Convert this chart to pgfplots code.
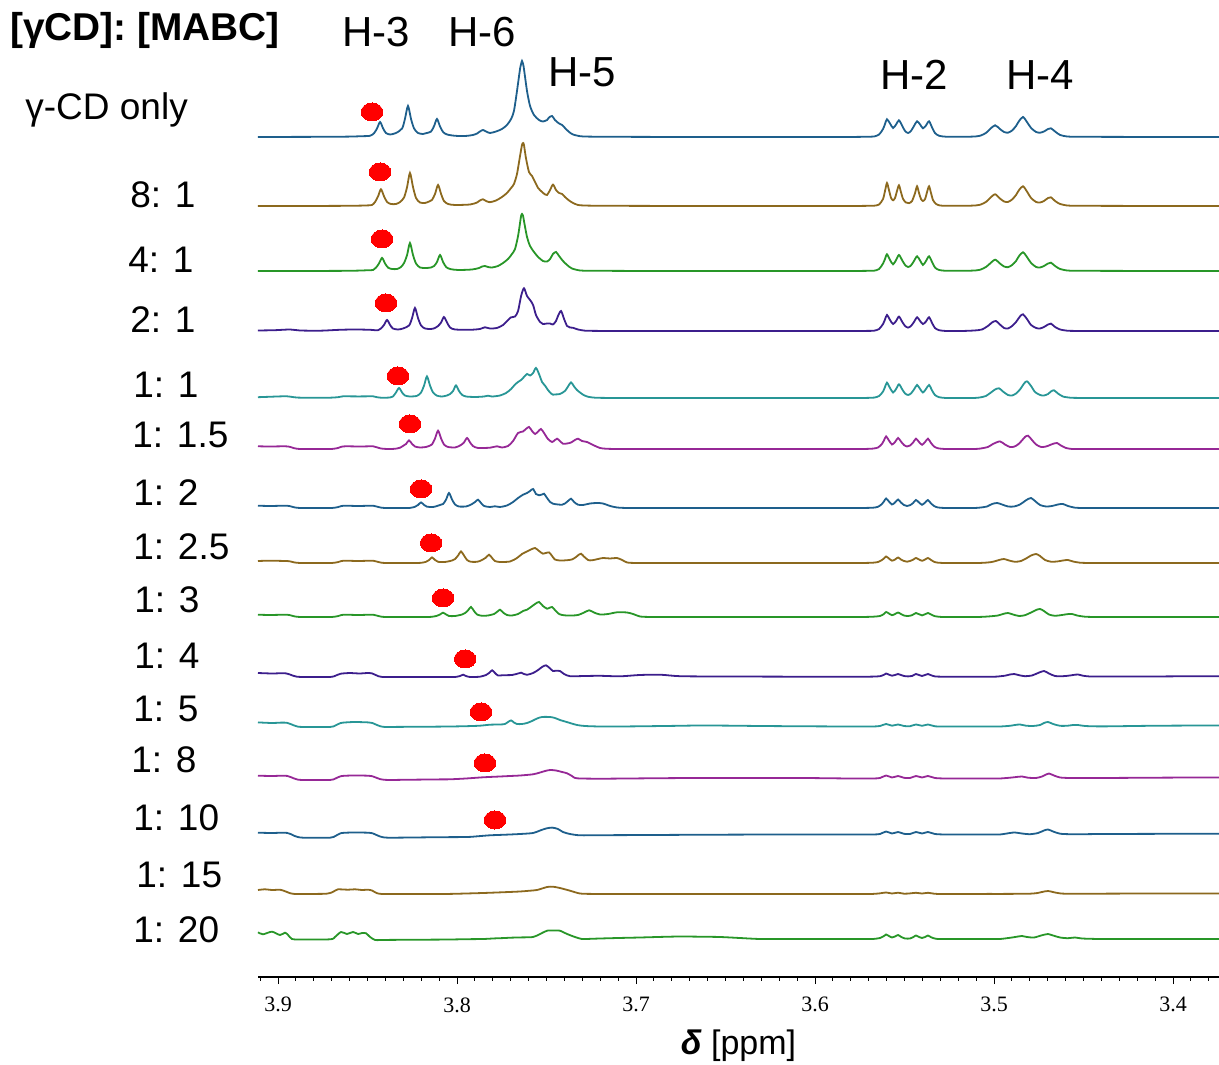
\documentclass[border=0pt]{standalone}
\usepackage{fontspec}
\setmainfont{Liberation Sans}
\newfontfamily\serif{Liberation Serif}
\usepackage{pgfplots}
\usepackage{pgfplotstable}
\pgfplotsset{compat=1.18}

\definecolor{cblue}{RGB}{30,95,140}
\definecolor{cbrown}{RGB}{140,105,30}
\definecolor{cgreen}{RGB}{40,150,40}
\definecolor{cindigo}{RGB}{60,30,140}
\definecolor{cteal}{RGB}{40,150,150}
\definecolor{cmag}{RGB}{150,40,150}

% spectra: x = chemical shift (ppm), i = intensity above own baseline
\pgfplotstableread{
x i
3.9112 0
3.8900 0.1
3.8709 0.2
3.8600 0.4
3.8530 0.8
3.8486 1.2
3.8464 3.7
3.8447 8.5
3.8430 15
3.8413 8.5
3.8397 4
3.8374 2.5
3.8341 4
3.8307 8.5
3.8291 18
3.8274 31
3.8257 18
3.8240 8.5
3.8218 4
3.8190 3
3.8168 4
3.8145 5.5
3.8128 11
3.8112 18
3.8095 10.5
3.8078 5
3.8056 2.5
3.8011 1.2
3.7955 1
3.7911 2
3.7888 3.5
3.7872 5.5
3.7855 7
3.7838 5.5
3.7816 4
3.7782 5.5
3.7749 8
3.7721 12
3.7698 18
3.7682 26
3.7665 46
3.7648 68
3.7642 73
3.7637 76
3.7631 73
3.7626 68
3.7609 46
3.7592 31
3.7570 22
3.7542 17
3.7520 15.5
3.7497 17
3.7486 19.5
3.7469 21
3.7453 17
3.7430 13.5
3.7413 12
3.7397 9
3.7374 5
3.7352 2.5
3.7313 0.8
3.7280 0.45
3.7230 0.3
3.7130 0.2
3.6950 0.1
3.6643 0
3.6300 0
3.6000 0
3.5850 0
3.5760 0.1
3.5710 0.25
3.5670 0.5
3.5642 2.5
3.5620 8
3.5609 13
3.5598 17.7
3.5581 13.5
3.5564 9
3.5547 12.5
3.5531 16.7
3.5514 11.5
3.5497 6
3.5480 4
3.5464 6
3.5447 11
3.5430 15.7
3.5413 12.5
3.5397 8.7
3.5380 11.5
3.5363 15.7
3.5346 9.5
3.5330 4
3.5307 1.2
3.5269 0.3
3.5220 0.2
3.5170 0.25
3.5134 0.3
3.5100 0.6
3.5078 1.2
3.5045 4
3.5022 8
3.4994 11.7
3.4967 8
3.4944 5
3.4922 4.3
3.4899 6.5
3.4877 11
3.4860 16
3.4838 20
3.4816 15
3.4793 9
3.4765 5
3.4743 4.3
3.4721 5.5
3.4698 8
3.4682 8.7
3.4659 5.5
3.4631 2
3.4592 0.5
3.4560 0.3
3.4510 0.2
3.4430 0.15
3.4300 0.1
3.4100 0
3.3900 0
3.3743 0
}\tA

\pgfplotstableread{
x i
3.9112 0
3.8900 0
3.8700 0.1
3.8600 0.2
3.8530 0.4
3.8500 0.6
3.8475 1
3.8458 4
3.8441 9.7
3.8425 16.7
3.8408 9.7
3.8391 4
3.8369 2
3.8341 2
3.8318 4
3.8296 8.5
3.8279 19
3.8263 33
3.8246 19
3.8229 8
3.8207 3.5
3.8179 3
3.8156 4.5
3.8140 6
3.8123 12
3.8106 21
3.8089 12
3.8073 5
3.8050 2
3.8011 1
3.7927 1.5
3.7888 3.5
3.7872 5.5
3.7855 6.7
3.7838 5
3.7816 3.8
3.7782 5.5
3.7749 9
3.7721 13
3.7698 18
3.7682 22
3.7665 32
3.7648 50
3.7637 61
3.7631 63
3.7626 61
3.7615 48
3.7598 34
3.7581 30
3.7564 24
3.7547 18
3.7525 14
3.7508 11.5
3.7497 11
3.7480 16
3.7464 21.4
3.7447 16
3.7430 13
3.7413 12
3.7397 9
3.7374 5.5
3.7352 3
3.7324 1
3.7290 0.5
3.7240 0.3
3.7150 0.2
3.6950 0.1
3.6643 0
3.6300 0
3.6000 0
3.5850 0
3.5760 0.05
3.5710 0.15
3.5670 0.3
3.5642 1.5
3.5620 7
3.5609 15
3.5598 23
3.5587 16
3.5575 8
3.5564 5.7
3.5553 8
3.5542 15
3.5531 20.7
3.5520 14
3.5508 7
3.5492 3.5
3.5475 2.8
3.5458 5
3.5441 13
3.5430 19.7
3.5419 13
3.5408 7
3.5397 5
3.5385 7
3.5374 14
3.5363 19.7
3.5352 13
3.5341 6
3.5324 2
3.5302 0.5
3.5269 0.2
3.5220 0.2
3.5170 0.25
3.5134 0.3
3.5100 0.6
3.5078 1.2
3.5045 4
3.5022 8
3.4994 11.7
3.4967 7.5
3.4944 4.5
3.4922 4
3.4899 6.5
3.4877 11
3.4860 16
3.4838 19.7
3.4816 14.5
3.4793 8
3.4765 4
3.4743 3.5
3.4721 5
3.4698 8
3.4682 8.7
3.4659 5
3.4631 2
3.4592 0.5
3.4560 0.3
3.4510 0.2
3.4430 0.15
3.4300 0.1
3.4100 0
3.3900 0
3.3743 0
}\tB

\pgfplotstableread{
x i
3.9112 0
3.8900 0
3.8700 0.1
3.8600 0.2
3.8530 0.5
3.8495 0.8
3.8469 1
3.8453 3.3
3.8436 7.5
3.8419 13
3.8402 7.5
3.8385 3.3
3.8363 2
3.8335 2
3.8313 4
3.8296 8
3.8279 16
3.8263 28
3.8246 16
3.8229 7.5
3.8207 3.5
3.8173 3
3.8145 3.5
3.8128 5
3.8112 9
3.8095 16
3.8078 9
3.8061 4
3.8039 2
3.7994 1
3.7916 1.5
3.7877 3
3.7860 4.5
3.7844 5
3.7827 4
3.7804 3.5
3.7771 5
3.7743 8
3.7715 12
3.7693 17
3.7676 22
3.7659 35
3.7648 48
3.7642 55
3.7637 57
3.7631 55
3.7626 50
3.7609 34
3.7592 25
3.7570 19
3.7547 14
3.7520 10
3.7497 9.5
3.7480 12
3.7464 17
3.7447 19
3.7430 15
3.7408 10
3.7385 6
3.7358 2.5
3.7313 0.5
3.7270 0.3
3.7200 0.2
3.7080 0.1
3.6900 0
3.6600 0
3.6300 0
3.6000 0
3.5850 0
3.5760 0.05
3.5710 0.15
3.5670 0.3
3.5642 2
3.5620 7.5
3.5609 12
3.5598 16.7
3.5581 11
3.5564 6.7
3.5547 11
3.5531 16
3.5514 11
3.5497 6
3.5480 4
3.5464 5.5
3.5447 10
3.5430 14.7
3.5413 10.5
3.5397 6
3.5380 10
3.5363 14.7
3.5346 9
3.5330 3.5
3.5307 1
3.5269 0.2
3.5220 0.2
3.5170 0.25
3.5134 0.3
3.5100 0.6
3.5078 1.2
3.5045 4
3.5022 7.5
3.4994 11.3
3.4967 7.5
3.4944 4.5
3.4922 3.8
3.4899 6
3.4877 10
3.4860 15
3.4838 18.7
3.4816 14
3.4793 8
3.4765 4
3.4743 3.5
3.4721 5
3.4698 7.5
3.4682 8.3
3.4659 5
3.4631 2
3.4592 0.5
3.4560 0.3
3.4510 0.2
3.4430 0.15
3.4300 0.1
3.4100 0
3.3900 0
3.3743 0
}\tC

\pgfplotstableread{
x i
3.9112 0.5
3.9017 0.8
3.8933 1.5
3.8877 0.5
3.8765 0.3
3.8654 1.2
3.8570 1.5
3.8486 1.2
3.8460 0.8
3.8441 0.8
3.8425 2.5
3.8408 6
3.8391 11
3.8374 6
3.8358 2.5
3.8330 1.5
3.8302 2.5
3.8268 5.5
3.8251 13
3.8235 23
3.8218 13
3.8201 5.5
3.8179 2.5
3.8145 2
3.8123 3
3.8106 5
3.8089 8.5
3.8073 14
3.8056 8.5
3.8039 3.5
3.8011 1.5
3.7927 1.2
3.7872 2
3.7844 3.7
3.7816 2.5
3.7777 3
3.7743 6
3.7715 11
3.7698 13.7
3.7676 14.5
3.7659 20
3.7642 35
3.7626 42.7
3.7609 35
3.7592 31
3.7575 26
3.7559 16
3.7536 9
3.7520 7
3.7497 7.5
3.7480 7.5
3.7464 6.5
3.7447 10
3.7436 15
3.7419 20
3.7402 12
3.7385 5
3.7369 3.5
3.7352 3.2
3.7324 1.5
3.7285 0.3
3.7250 0.15
3.7180 0.05
3.7089 0
3.6900 0
3.6600 0
3.6300 0
3.6000 0
3.5850 0
3.5760 0
3.5710 0.1
3.5670 0.3
3.5642 2
3.5620 7
3.5609 11.5
3.5598 16
3.5581 11
3.5564 7
3.5547 10
3.5531 14.4
3.5514 9.5
3.5497 5
3.5480 3.4
3.5464 5
3.5447 9
3.5430 13.7
3.5413 10
3.5397 7
3.5380 9.5
3.5363 13.7
3.5346 8
3.5330 3
3.5307 0.8
3.5269 0
3.5220 0
3.5160 0.1
3.5120 0.4
3.5090 0.8
3.5067 1.5
3.5034 5
3.5011 8.5
3.4989 10
3.4967 6.5
3.4944 3
3.4922 2.5
3.4899 5
3.4877 9
3.4855 14.5
3.4838 16.7
3.4816 12
3.4793 6
3.4765 3
3.4743 2.5
3.4721 4
3.4698 6.5
3.4682 7.4
3.4659 4
3.4631 1.5
3.4592 0.3
3.4560 0.1
3.4510 0
3.4430 0
3.4300 0
3.4100 0
3.3900 0
3.3743 0
}\tD

\pgfplotstableread{
x i
3.9112 0.8
3.9050 1.2
3.8990 1.6
3.8950 1.7
3.8920 1.0
3.8890 0.4
3.8850 0.3
3.8780 0.3
3.8709 0.3
3.8665 0.8
3.8637 1.7
3.8580 1.6
3.8520 1.6
3.8469 1.7
3.8448 0.8
3.8425 0.3
3.8400 0.3
3.8374 0.5
3.8358 1.5
3.8341 5.5
3.8324 10
3.8307 5.5
3.8291 2.5
3.8263 1.5
3.8223 2.2
3.8201 5.5
3.8184 12.5
3.8168 21.6
3.8151 12.5
3.8134 5.5
3.8112 2.3
3.8084 1.5
3.8056 2.5
3.8039 4
3.8022 7
3.8006 12.6
3.7989 7
3.7972 3.2
3.7950 1.5
3.7899 1
3.7849 1.5
3.7827 2.3
3.7804 1.5
3.7760 2.5
3.7726 5
3.7698 9
3.7676 13.5
3.7659 16
3.7642 18
3.7626 21
3.7609 24
3.7592 22.5
3.7575 25
3.7559 30
3.7542 24
3.7525 16
3.7508 12.3
3.7492 8
3.7475 4.5
3.7464 3.3
3.7447 3.6
3.7425 4
3.7397 7
3.7380 11.5
3.7363 15.6
3.7346 11.5
3.7330 8
3.7313 5.5
3.7296 3.3
3.7268 1.2
3.7229 0.3
3.7180 0.1
3.7089 0
3.6900 0
3.6600 0
3.6300 0
3.6000 0
3.5850 0
3.5760 0
3.5710 0.1
3.5670 0.4
3.5642 2
3.5620 6.5
3.5609 11
3.5598 15.3
3.5581 10
3.5564 5.5
3.5547 9
3.5531 13.7
3.5514 9
3.5497 4.5
3.5480 3
3.5464 4.5
3.5447 8.5
3.5430 13
3.5413 9
3.5397 5.5
3.5380 9
3.5363 13
3.5346 7.5
3.5330 3
3.5307 0.8
3.5269 0
3.5210 0
3.5140 0
3.5110 0
3.5089 0.3
3.5065 1
3.5045 2
3.5017 5.5
3.4994 8.5
3.4972 9.7
3.4950 6.5
3.4922 3
3.4899 2.5
3.4877 4.5
3.4855 8.5
3.4832 14.5
3.4816 16.7
3.4793 12
3.4771 6
3.4743 3
3.4721 2.5
3.4698 4
3.4682 6.5
3.4665 7.7
3.4643 4.5
3.4615 1.5
3.4575 0.3
3.4540 0.1
3.4490 0
3.4400 0
3.4250 0
3.4000 0
3.3743 0
}\tE

\pgfplotstableread{
x i
3.9112 2.7
3.9045 2.5
3.8961 2.7
3.8935 2.2
3.8910 0.8
3.8885 0.1
3.8850 0
3.8770 0
3.8700 0
3.8665 1.0
3.8645 2.3
3.8620 2.7
3.8542 2.5
3.8469 2.7
3.8450 1.8
3.8425 0.5
3.8400 0.1
3.8370 0
3.8346 0.2
3.8318 1.3
3.8302 3
3.8285 5
3.8268 8.6
3.8251 5
3.8235 2.5
3.8207 1.5
3.8173 2
3.8156 3
3.8140 4.5
3.8123 10.5
3.8106 18.3
3.8089 10.5
3.8073 4.5
3.8050 2
3.8011 1.5
3.7994 2.5
3.7978 4
3.7961 6.5
3.7944 11
3.7927 6.5
3.7911 3
3.7883 1
3.7816 1.3
3.7777 2.7
3.7749 1.5
3.7715 3
3.7687 8
3.7659 16
3.7631 17.5
3.7615 20
3.7598 22
3.7581 18
3.7564 15
3.7547 17.5
3.7531 20
3.7514 16
3.7492 10
3.7469 7
3.7453 9
3.7441 10.3
3.7425 8
3.7408 5.3
3.7385 5.5
3.7363 6.5
3.7341 9
3.7324 10.3
3.7302 8
3.7274 7
3.7240 4
3.7201 1
3.7170 0.3
3.7130 0.05
3.7060 0
3.6900 0
3.6600 0
3.6300 0
3.6000 0
3.5850 0
3.5760 0
3.5710 0.1
3.5676 0.4
3.5648 1.5
3.5626 5
3.5615 8.5
3.5603 12.6
3.5587 8.5
3.5570 4.5
3.5553 7
3.5536 11
3.5520 7.5
3.5503 4
3.5486 2.5
3.5469 3.5
3.5452 6.5
3.5436 10.3
3.5419 7
3.5402 4.2
3.5385 7
3.5369 10.3
3.5352 6
3.5335 2.5
3.5313 0.7
3.5274 0
3.5220 0
3.5150 0
3.5110 0
3.5078 0.4
3.5034 2
3.5006 5
3.4967 7.6
3.4939 4.5
3.4911 2
3.4888 2.3
3.4866 4.5
3.4844 8.5
3.4827 12
3.4810 13.3
3.4788 9
3.4765 4.5
3.4737 2
3.4709 2.5
3.4687 4
3.4665 5.5
3.4648 6
3.4626 3.5
3.4598 1
3.4564 0
3.4530 0
3.4470 0
3.4370 0
3.4200 0
3.4000 0
3.3743 0
}\tF

\pgfplotstableread{
x i
3.9112 2.3
3.9045 2
3.8961 2.3
3.8935 1.9
3.8910 0.7
3.8885 0.1
3.8850 0
3.8770 0
3.8700 0
3.8665 0.9
3.8645 2
3.8620 2.3
3.8553 2
3.8469 2.3
3.8450 1.5
3.8425 0.4
3.8400 0
3.8350 0
3.8300 0
3.8263 0.1
3.8235 1.2
3.8218 3
3.8201 5.6
3.8184 3
3.8168 1.3
3.8134 1
3.8112 2
3.8095 3
3.8078 4
3.8061 8.5
3.8045 15
3.8028 8.5
3.8011 3.5
3.7989 1.5
3.7950 1.5
3.7933 2.5
3.7916 4
3.7899 6
3.7883 8.3
3.7866 5
3.7849 2
3.7816 1
3.7788 1.7
3.7760 1
3.7721 2.5
3.7687 6
3.7659 10
3.7631 13.3
3.7609 15
3.7592 17
3.7575 19
3.7559 14
3.7542 12.7
3.7525 13.5
3.7514 14.3
3.7497 10
3.7480 6
3.7464 4.3
3.7436 3.5
3.7413 3.3
3.7397 4.5
3.7380 7
3.7363 9.3
3.7346 6
3.7324 3.3
3.7296 3
3.7257 4.5
3.7218 5
3.7184 4.5
3.7145 2
3.7106 0.5
3.7070 0.1
3.7020 0
3.6900 0
3.6600 0
3.6300 0
3.6000 0
3.5850 0
3.5760 0
3.5710 0.1
3.5676 0.3
3.5648 1.2
3.5626 4
3.5615 6.5
3.5603 9.5
3.5587 6.5
3.5570 3.5
3.5553 5.5
3.5536 8.5
3.5520 5.5
3.5503 3
3.5486 2
3.5469 2.8
3.5452 5
3.5436 8
3.5419 5.5
3.5402 3.2
3.5385 5.5
3.5369 8
3.5352 4.5
3.5335 2
3.5313 0.5
3.5274 0
3.5220 0
3.5150 0
3.5110 0
3.5089 0.2
3.5060 0.8
3.5039 1.5
3.5011 4
3.4983 5
3.4955 3.5
3.4922 1.5
3.4888 1.5
3.4855 3.5
3.4827 7
3.4810 9
3.4793 10
3.4771 7
3.4743 3
3.4709 1.5
3.4676 2
3.4643 3.5
3.4615 4
3.4587 2
3.4547 0.3
3.4510 0.05
3.4460 0
3.4370 0
3.4200 0
3.4000 0
3.3743 0
}\tG

\pgfplotstableread{
x i
3.9112 2
3.9045 2.3
3.8961 2
3.8935 1.7
3.8910 0.6
3.8885 0.1
3.8850 0
3.8770 0
3.8700 0
3.8665 0.9
3.8645 2
3.8620 2.3
3.8553 2
3.8469 2.3
3.8450 1.5
3.8425 0.4
3.8400 0
3.8340 0
3.8280 0
3.8230 0
3.8200 0.2
3.8173 1.2
3.8156 3
3.8140 5.6
3.8123 3
3.8106 1.2
3.8067 1
3.8028 2.5
3.8011 4
3.7994 7.5
3.7978 11.6
3.7961 7.5
3.7944 3
3.7922 1.2
3.7888 1.2
3.7872 2
3.7855 3.5
3.7838 5.5
3.7821 8.3
3.7804 5
3.7788 2
3.7760 1
3.7704 1.5
3.7665 5
3.7637 9
3.7609 11.6
3.7587 13.5
3.7564 15
3.7542 12
3.7520 9.3
3.7503 10
3.7486 10.6
3.7469 7
3.7453 3.5
3.7425 2.5
3.7391 2.7
3.7358 3.5
3.7335 6
3.7318 8.5
3.7307 9.3
3.7291 6.5
3.7268 3
3.7246 2.7
3.7212 4
3.7184 5
3.7145 4.5
3.7106 5
3.7078 3
3.7050 0.5
3.7020 0.1
3.6978 0
3.6900 0
3.6600 0
3.6300 0
3.6000 0
3.5850 0
3.5760 0
3.5710 0.1
3.5676 0.3
3.5648 1
3.5626 3
3.5615 4.5
3.5603 6.5
3.5587 4.5
3.5570 2.3
3.5553 3.5
3.5536 5.5
3.5520 3.5
3.5503 2
3.5486 1.3
3.5469 2
3.5452 3.3
3.5436 5
3.5419 3.5
3.5402 2.2
3.5385 3.5
3.5369 5
3.5352 3
3.5335 1.2
3.5313 0.3
3.5274 0
3.5220 0
3.5150 0
3.5090 0
3.5050 0.3
3.5020 0.8
3.5000 1.5
3.4972 3
3.4944 4
3.4916 2.5
3.4883 1.2
3.4849 2
3.4816 5
3.4793 7.5
3.4765 9
3.4743 7
3.4715 3
3.4682 1.3
3.4648 1.5
3.4615 2.5
3.4587 3
3.4559 1.5
3.4520 0.3
3.4480 0.05
3.4420 0
3.4330 0
3.4200 0
3.4000 0
3.3743 0
}\tH

\pgfplotstableread{
x i
3.9112 2.3
3.9045 2
3.8961 2.3
3.8935 1.9
3.8910 0.7
3.8885 0.1
3.8850 0
3.8770 0
3.8700 0
3.8665 0.9
3.8645 2
3.8620 2.3
3.8553 2
3.8469 2.3
3.8450 1.5
3.8425 0.4
3.8400 0
3.8340 0
3.8280 0
3.8220 0
3.8170 0
3.8140 0.2
3.8112 1.2
3.8095 2.5
3.8078 4.3
3.8061 2.5
3.8045 1
3.8011 1
3.7972 2.5
3.7955 4
3.7939 6.5
3.7922 10
3.7905 6
3.7888 2.5
3.7860 1.2
3.7827 1.5
3.7793 3
3.7777 5
3.7760 7.3
3.7743 4.5
3.7721 2
3.7693 1.5
3.7659 3
3.7631 6
3.7609 7.3
3.7587 10
3.7564 13
3.7542 15
3.7520 11
3.7497 8.3
3.7480 9.5
3.7469 10
3.7453 7
3.7430 3
3.7402 1.7
3.7358 1.5
3.7324 2
3.7296 4
3.7262 6.7
3.7235 4.5
3.7201 2.5
3.7156 3
3.7106 4.7
3.7050 4.5
3.7017 3
3.6978 0.5
3.6940 0.1
3.6866 0
3.6700 0
3.6400 0
3.6100 0
3.5850 0
3.5760 0
3.5710 0.1
3.5676 0.3
3.5637 1
3.5615 3
3.5603 5
3.5587 3.5
3.5570 1.8
3.5553 3
3.5536 4.5
3.5520 3
3.5503 1.5
3.5480 1
3.5458 1.8
3.5436 4
3.5419 2.8
3.5402 1.6
3.5385 2.8
3.5369 4
3.5352 2.5
3.5330 0.8
3.5291 0
3.5240 0
3.5170 0
3.5100 0
3.5060 0.2
3.5020 0.7
3.4978 1.5
3.4950 3
3.4922 4
3.4894 2.5
3.4860 1
3.4827 1.8
3.4793 4.5
3.4765 7
3.4743 8
3.4721 6
3.4693 2.5
3.4659 1.2
3.4620 2
3.4592 2.8
3.4564 3
3.4536 1.5
3.4492 0.3
3.4450 0.05
3.4390 0
3.4300 0
3.4150 0
3.3950 0
3.3743 0
}\tI

\pgfplotstableread{
x i
3.9112 4
3.9034 3.5
3.8980 3.8
3.8955 3.6
3.8935 2.6
3.8915 1.2
3.8895 0.3
3.8860 0
3.8780 0
3.8710 0
3.8690 0.5
3.8670 2
3.8650 3.3
3.8620 3.8
3.8598 4
3.8542 3.5
3.8500 4
3.8475 3.6
3.8458 2.3
3.8440 0.8
3.8420 0.1
3.8390 0
3.8330 0
3.8250 0
3.8150 0
3.8050 0
3.8011 0
3.7983 1
3.7966 2.3
3.7950 1
3.7927 0
3.7872 0.3
3.7838 2
3.7821 4
3.7804 6.7
3.7788 4
3.7771 1.5
3.7743 1.8
3.7693 2
3.7659 3.5
3.7642 4.3
3.7626 3
3.7609 2.2
3.7575 4
3.7547 7
3.7525 10
3.7503 11.7
3.7480 8.5
3.7464 6
3.7447 6.2
3.7425 6
3.7402 3
3.7369 0.8
3.7285 1
3.7201 1.2
3.7089 0.7
3.6978 2
3.6866 2.3
3.6754 0.8
3.6531 0.5
3.6300 0.4
3.6050 0.3
3.5804 0.3
3.5720 0.3
3.5676 0.4
3.5637 0.8
3.5615 2.2
3.5603 3.5
3.5587 2.3
3.5570 1.3
3.5553 2
3.5536 3
3.5520 2
3.5503 1
3.5480 0.6
3.5458 1
3.5436 3
3.5419 2
3.5402 1
3.5385 2
3.5369 3
3.5352 1.8
3.5330 0.6
3.5291 0.3
3.5220 0.3
3.5140 0.3
3.5060 0.3
3.4994 0.3
3.4939 1.3
3.4911 2.5
3.4888 3
3.4860 1.8
3.4827 0.8
3.4788 1.5
3.4754 4
3.4721 6
3.4693 3.5
3.4659 1
3.4615 0.8
3.4575 1.5
3.4547 2.3
3.4531 2.5
3.4503 1.3
3.4464 0.5
3.4400 0.4
3.4300 0.5
3.4129 0.5
3.3950 0.7
3.3743 0.8
}\tJ

\pgfplotstableread{
x i
3.9112 4.6
3.9034 4
3.8980 4.4
3.8950 4.2
3.8930 3
3.8910 1.5
3.8890 0.4
3.8860 0
3.8780 0
3.8710 0
3.8690 0.6
3.8670 2.4
3.8650 4
3.8620 4.6
3.8570 5
3.8497 4.6
3.8470 3.8
3.8450 2.2
3.8430 0.8
3.8402 0
3.8340 0.1
3.8250 0.2
3.8150 0.3
3.8039 0.5
3.7950 0.8
3.7872 1.3
3.7816 2.3
3.7760 2.5
3.7732 3
3.7715 5
3.7698 6.6
3.7682 4.5
3.7665 3
3.7637 3
3.7609 4
3.7581 6
3.7553 8.5
3.7525 10
3.7480 10
3.7453 9
3.7425 7
3.7397 5.5
3.7369 4
3.7330 2
3.7285 1
3.7201 0.5
3.7100 0.5
3.6978 0.7
3.6800 1.1
3.6643 1.5
3.6450 1.3
3.6307 1
3.6050 0.7
3.5804 0.5
3.5720 0.5
3.5676 0.5
3.5637 1
3.5603 3
3.5570 1.3
3.5536 2.5
3.5503 1
3.5469 0.8
3.5436 2.5
3.5402 1.2
3.5369 2.5
3.5330 0.7
3.5274 0.5
3.5200 0.5
3.5100 0.5
3.5020 0.5
3.4967 0.5
3.4911 1.2
3.4883 2
3.4855 2.5
3.4821 1.3
3.4782 1
3.4743 2
3.4721 4
3.4698 5
3.4670 3
3.4631 1.2
3.4587 1.3
3.4559 2
3.4531 2
3.4492 1
3.4408 0.6
3.4300 0.8
3.4129 1.2
3.3950 1.4
3.3743 1.5
}\tK

\pgfplotstableread{
x i
3.9112 4.3
3.9034 4
3.8980 4.3
3.8950 4.1
3.8930 3
3.8910 1.5
3.8890 0.4
3.8860 0
3.8780 0
3.8710 0
3.8690 0.6
3.8670 2.3
3.8650 3.8
3.8620 4.3
3.8570 4.5
3.8497 4.3
3.8470 3.6
3.8450 2.2
3.8430 0.9
3.8405 0.2
3.8370 0
3.8300 0.2
3.8200 0.4
3.8100 0.6
3.8039 0.7
3.7950 1.5
3.7855 2.7
3.7760 3.5
3.7704 4
3.7648 4.5
3.7575 5.7
3.7536 7.5
3.7508 9
3.7480 10
3.7447 9.5
3.7413 8
3.7385 6.7
3.7358 4
3.7330 1.7
3.7201 1.3
3.7050 1.5
3.6922 1.7
3.6780 1.9
3.6643 2
3.6400 2
3.6084 2
3.5950 1.8
3.5804 1.5
3.5720 1.5
3.5676 1.5
3.5637 2
3.5603 4.5
3.5570 2.5
3.5536 4
3.5503 2.2
3.5469 2
3.5436 4
3.5402 2.5
3.5369 4
3.5330 2
3.5274 1.5
3.5200 1.5
3.5100 1.5
3.5020 1.5
3.4967 1.5
3.4899 2.5
3.4866 3.2
3.4844 3.5
3.4810 2.3
3.4765 2
3.4732 3.5
3.4709 5.5
3.4693 6.5
3.4665 4.5
3.4631 2.5
3.4575 2
3.4500 2
3.4408 2
3.4200 2.2
3.4000 2.4
3.3743 2.5
}\tL

\pgfplotstableread{
x i
3.9112 4.3
3.9034 4
3.8980 4.3
3.8950 4.1
3.8930 3
3.8910 1.2
3.8890 0
3.8860 -0.7
3.8780 -0.7
3.8710 -0.7
3.8690 0
3.8670 2
3.8650 3.8
3.8620 4.3
3.8570 4.5
3.8497 4.3
3.8470 3.6
3.8450 2
3.8430 0.5
3.8405 -0.5
3.8370 -0.7
3.8300 -0.6
3.8200 -0.4
3.8100 -0.2
3.7944 0
3.7880 0.8
3.7816 1.7
3.7730 2.3
3.7648 3
3.7575 4
3.7536 6.5
3.7503 8.5
3.7469 9.4
3.7436 8
3.7408 5
3.7369 3
3.7313 1.7
3.7200 1.8
3.7050 1.9
3.6922 2
3.6700 2.2
3.6400 2.4
3.6084 2.5
3.5950 2.5
3.5804 2.5
3.5720 2.5
3.5676 2.5
3.5637 3
3.5603 5.5
3.5570 3.5
3.5536 5
3.5503 3.2
3.5469 3
3.5436 5
3.5402 3.5
3.5369 5
3.5330 3
3.5274 2.5
3.5200 2.5
3.5100 2.5
3.5020 2.5
3.4967 2.5
3.4911 4
3.4883 4.5
3.4844 3.5
3.4799 2.8
3.4754 4
3.4721 6.5
3.4698 7.5
3.4670 5.5
3.4631 3.3
3.4575 2.8
3.4500 2.8
3.4400 3
3.4200 3.1
3.4000 3.2
3.3743 3.3
}\tM

\pgfplotstableread{
x i
3.9112 4
3.9073 4.7
3.9034 4
3.8989 4.3
3.8972 3.5
3.8950 2
3.8933 0.8
3.8905 0
3.8850 0
3.8780 0.1
3.8730 0.3
3.8700 1.5
3.8680 3.5
3.8665 4.7
3.8609 4.3
3.8570 4.7
3.8531 4
3.8497 4.3
3.8475 3.5
3.8460 2
3.8447 0.8
3.8420 0
3.8350 0
3.8250 0
3.8150 0
3.8039 0.1
3.7950 0.5
3.7855 1
3.7750 1.7
3.7648 2.5
3.7600 3.2
3.7553 4
3.7497 7
3.7464 7.3
3.7425 6
3.7369 3.3
3.7313 0.5
3.7250 0.1
3.7150 0
3.7000 0
3.6922 0
3.6700 0
3.6400 0
3.6100 0
3.5804 0
3.5720 0
3.5676 0.1
3.5640 0.6
3.5603 1.5
3.5570 0.5
3.5536 1.3
3.5503 0.3
3.5470 0.6
3.5436 1.2
3.5402 0.5
3.5369 1.2
3.5335 0.3
3.5302 0
3.5240 0
3.5150 0
3.5050 0.1
3.4950 0.1
3.4850 0.2
3.4799 0.3
3.4760 0.9
3.4732 2
3.4698 3
3.4659 1.5
3.4630 0.6
3.4603 0.3
3.4540 0.3
3.4450 0.3
3.4300 0.4
3.4050 0.5
3.3743 0.5
}\tN

\pgfplotstableread{
x i
3.9112 7.7
3.9084 5.7
3.9034 8.3
3.8989 5
3.8961 7.3
3.8944 5
3.8922 1
3.8877 0.5
3.8709 0.7
3.8682 3
3.8648 8
3.8615 6
3.8581 8
3.8553 6
3.8531 7
3.8508 6.7
3.8486 3
3.8458 0
3.8430 0
3.8380 0.1
3.8300 0.2
3.8200 0.3
3.8100 0.4
3.8039 0.5
3.7950 0.8
3.7855 1
3.7790 1.6
3.7732 2
3.7704 2.3
3.7640 2.6
3.7575 3
3.7536 6
3.7497 9.3
3.7453 9.5
3.7425 9.3
3.7385 6
3.7341 3
3.7302 1
3.7250 1.2
3.7201 1.5
3.7100 2
3.6978 2.5
3.6860 3.1
3.6754 3.5
3.6640 3.3
3.6531 3
3.6420 2
3.6307 1
3.6150 1
3.6000 1
3.5804 1
3.5720 1
3.5676 1
3.5637 2
3.5615 4
3.5603 5.5
3.5587 4
3.5570 2.5
3.5553 3.5
3.5536 5
3.5520 3.2
3.5497 1.5
3.5469 1.5
3.5452 2.8
3.5436 4.5
3.5419 3
3.5402 2
3.5385 3
3.5369 4.5
3.5352 2.8
3.5324 1.2
3.5274 1
3.5200 1
3.5100 1
3.5020 1
3.4967 1
3.4899 2.5
3.4866 3.5
3.4844 4
3.4816 3
3.4777 2.5
3.4737 4.5
3.4715 5.5
3.4698 6
3.4670 4.5
3.4631 2.5
3.4587 1.8
3.4547 2.5
3.4508 1.5
3.4408 1
3.4250 1
3.4000 1
3.3743 1
}\tO

\begin{document}
\begin{tikzpicture}
\begin{axis}[
    name=ax,
    scale only axis,
    width=480.5pt, height=488.5pt,
    xmin=3.3743, xmax=3.9112, x dir=reverse,
    ymin=0, ymax=977,
    axis x line=bottom, axis y line=none,
    axis line style={-, line width=0.6pt},
    xtick={3.4,3.5,3.6,3.7,3.8,3.9},
    xticklabels={3.4,3.5,3.6,3.7,3.8,3.9},
    minor xtick={3.38,3.39,...,3.915},
    tick align=outside,
    major tick length=3.5pt, minor tick length=1.8pt,
    every tick/.style={black, line width=0.5pt},
    /pgf/number format/assume math mode=true,
    tick label style={font=\serif\fontsize{11}{13}\selectfont},
    xticklabel style={inner sep=0pt, anchor=north, yshift=-6.5pt},
    xlabel={\textbf{\textit{δ}} [ppm]},
    xlabel style={font=\fontsize{17}{20}\selectfont, at={(rel axis cs:0.5,0)}, anchor=center, yshift=-34.5pt},
    clip=false,
    spec/.style={line width=0.9pt, smooth, tension=0.45, no marks},
]
\addplot[cblue, spec]   table[x=x, y expr=\thisrow{i}+840] {\tA};
\addplot[cbrown, spec]  table[x=x, y expr=\thisrow{i}+771] {\tB};
\addplot[cgreen, spec]  table[x=x, y expr=\thisrow{i}+706] {\tC};
\addplot[cindigo, spec] table[x=x, y expr=\thisrow{i}+646] {\tD};
\addplot[cteal, spec]   table[x=x, y expr=\thisrow{i}+579] {\tE};
\addplot[cmag, spec]    table[x=x, y expr=\thisrow{i}+528] {\tF};
\addplot[cblue, spec]   table[x=x, y expr=\thisrow{i}+469] {\tG};
\addplot[cbrown, spec]  table[x=x, y expr=\thisrow{i}+414] {\tH};
\addplot[cgreen, spec]  table[x=x, y expr=\thisrow{i}+360] {\tI};
\addplot[cindigo, spec] table[x=x, y expr=\thisrow{i}+300] {\tJ};
\addplot[cteal, spec]   table[x=x, y expr=\thisrow{i}+250] {\tK};
\addplot[cmag, spec]    table[x=x, y expr=\thisrow{i}+197] {\tL};
\addplot[cblue, spec]   table[x=x, y expr=\thisrow{i}+140] {\tM};
\addplot[cbrown, spec]  table[x=x, y expr=\thisrow{i}+83]  {\tN};
\addplot[cgreen, spec]  table[x=x, y expr=\thisrow{i}+37]  {\tO};
% H-3 markers
\addplot[red, only marks, mark=*, mark size=4.5pt, mark options={fill=red, draw=red, line width=0pt, xscale=1.2}] coordinates {
(3.8475,865) (3.8430,805) (3.8419,738) (3.8397,674) (3.8330,601)
(3.8263,553) (3.8201,488) (3.8145,434) (3.8078,379) (3.7955,318)
(3.7866,265) (3.7844,214) (3.7788,157)};
\end{axis}
% labels, placed in image pixel units
\begin{scope}[shift={(ax.south west)}, shift={(-129pt,488.5pt)}, x=0.5pt, y=-0.5pt]
\tikzset{lab/.style={anchor=base west, inner sep=0pt, font=\fontsize{18.5}{22}\selectfont}}
\node[anchor=base west, inner sep=0pt, font=\bfseries\fontsize{19.4}{22}\selectfont] at (10,41) {[γCD]: [MABC]};
\tikzset{hl/.style={anchor=base west, inner sep=0pt, font=\fontsize{21}{24}\selectfont}}
\node[hl] at (342,47) {H-3};
\node[hl] at (448,47) {H-6};
\node[hl] at (548,87) {H-5};
\node[hl] at (880,90) {H-2};
\node[hl] at (1006,90) {H-4};
\node[lab] at (25,120) {γ-CD only};
\node[lab] at (130,208) {8: 1};
\node[lab] at (128,273) {4: 1};
\node[lab] at (130,333) {2: 1};
\node[lab] at (133,398) {1: 1};
\node[lab] at (132,448) {1: 1.5};
\node[lab] at (133,506) {1: 2};
\node[lab] at (133,560) {1: 2.5};
\node[lab] at (134,613) {1: 3};
\node[lab] at (134,669) {1: 4};
\node[lab] at (133,722) {1: 5};
\node[lab] at (131,773) {1: 8};
\node[lab] at (133,831) {1: 10};
\node[lab] at (136,887) {1: 15};
\node[lab] at (133,943) {1: 20};
\pgfresetboundingbox
\path (0,0) rectangle (1219,1064);
\end{scope}
\end{tikzpicture}
\end{document}
